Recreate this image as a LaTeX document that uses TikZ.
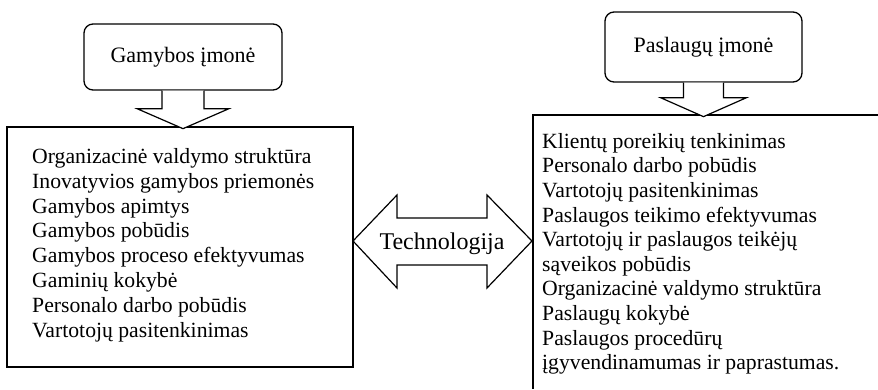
\documentclass[tikz,border=0pt]{standalone}
\usepackage{fontspec}
\setmainfont{Liberation Serif}
\begin{document}
\begin{tikzpicture}[x=1pt,y=-1pt,
  every node/.style={inner sep=0pt},
  topbox/.style={draw, line width=1.3pt, rounded corners=9pt,
    font=\fontsize{22}{26}\selectfont},
  frame/.style={draw, line width=1.5pt},
  blockarrow/.style={draw, line width=1.2pt, fill=white, line join=miter},
  itemlist/.style={align=left, anchor=north west,
    font=\fontsize{21.7}{24.6}\selectfont}]
\useasboundingbox (0,0) rectangle (878,389);

% heading boxes
\node[topbox, minimum width=198pt, minimum height=66pt] (gam) at (183,57) {Gamybos įmonė};
\node[topbox, minimum width=197pt, minimum height=70pt] (pas) at (703.5,47) {Paslaugų įmonė};

% manufacturing frame
\node[frame, minimum width=346pt, minimum height=240pt] (lbox) at (180,247) {};
\node[itemlist, font=\fontsize{21.7}{24.9}\selectfont] (llist) at (32,148) {Organizacinė valdymo struktūra\\
Inovatyvios gamybos priemonės\\
Gamybos apimtys\\
Gamybos pobūdis\\
Gamybos proceso efektyvumas\\
Gaminių kokybė\\
Personalo darbo pobūdis\\
Vartotojų pasitenkinimas};

% service frame (open to the right and bottom)
\coordinate (rtop) at (878,115);
\coordinate (rcorner) at (533,115);
\coordinate (rbottom) at (533,389);
\draw[line width=1.5pt] (rtop) -- (rcorner) -- (rbottom);
\node[itemlist] (rlist) at (542,133) {Klientų poreikių tenkinimas\\
Personalo darbo pobūdis\\
Vartotojų pasitenkinimas\\
Paslaugos teikimo efektyvumas\\
Vartotojų ir paslaugos teikėjų\\
sąveikos pobūdis\\
Organizacinė valdymo struktūra\\
Paslaugų kokybė\\
Paslaugos procedūrų\\
įgyvendinamumas ir paprastumas.};

% down arrows from the headings
\draw[blockarrow] (gam.south) ++(-21,0) -- ++(0,18) -- ++(-25,0) -- ++(46,20)
  -- ++(46,-20) -- ++(-25,0) -- ++(0,-18);
\draw[blockarrow] (pas.south) ++(-20,0) -- ++(0,15) -- ++(-23,0) -- ++(43,19)
  -- ++(43,-19) -- ++(-23,0) -- ++(0,-15);

% two-way arrow between the frames
\coordinate (tl) at (353,241);
\draw[blockarrow] (tl) -- ++(44,-46) -- ++(0,23) -- ++(90,0) -- ++(0,-23)
  -- ++(45,46) -- ++(-45,47) -- ++(0,-23) -- ++(-90,0) -- ++(0,23) -- cycle;
\node[anchor=base, font=\fontsize{24}{28}\selectfont] (tech) at (442,249) {Technologija};
\end{tikzpicture}
\end{document}
